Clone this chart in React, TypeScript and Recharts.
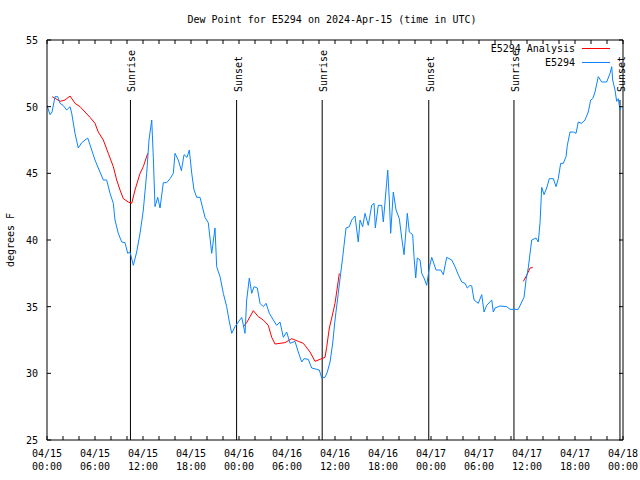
import React from 'react';
import { LineChart, Line, XAxis, YAxis, ReferenceLine } from 'recharts';

const FONT = '"DejaVu Sans Mono", monospace';

// observed dew point (hours since 04/15 00:00 UTC)
const obsHours = [
  0, 0.38, 0.63, 1.0, 1.34, 1.63, 2.0, 2.46, 2.88, 3.09,
  3.5, 3.91, 4.34, 5.09, 5.59, 6.0, 6.41, 7.04, 7.46, 7.88,
  8.29, 8.5, 8.91, 9.34, 9.75, 10.09, 10.38, 10.79, 11.21, 11.63,
  12.04, 12.46, 12.75, 13.09, 13.29, 13.5, 13.84, 14.13, 14.54, 14.96,
  15.38, 15.79, 16.0, 16.41, 16.8, 17.13, 17.5, 17.79, 18.09, 18.38,
  18.71, 19.13, 19.75, 20.16, 20.59, 21.0, 21.21, 21.63, 22.04, 22.46,
  22.75, 23.09, 23.5, 23.91, 24.34, 24.75, 24.96, 25.29, 25.59, 25.88,
  26.29, 26.63, 27.04, 27.38, 27.79, 28.29, 28.71, 29.13, 29.54, 29.96,
  30.38, 31.0, 31.41, 31.84, 32.13, 32.66, 33.09, 33.71, 34.04, 34.34,
  34.75, 35.04, 35.38, 35.7, 36.0, 36.41, 36.71, 36.96, 37.13, 37.38,
  37.79, 38.09, 38.5, 38.91, 39.13, 39.46, 39.75, 40.16, 40.59, 40.88,
  41.04, 41.41, 41.84, 42.04, 42.46, 42.59, 42.79, 42.96, 43.29, 43.63,
  44.04, 44.34, 44.63, 45.04, 45.29, 45.71, 45.88, 46.09, 46.29, 46.63,
  46.84, 47.13, 47.46, 47.79, 48.09, 48.29, 48.63, 49.21, 49.54, 49.96,
  50.59, 51.0, 51.41, 51.84, 52.25, 52.54, 52.88, 53.09, 53.38, 53.91,
  54.34, 54.63, 54.96, 55.59, 55.79, 56.0, 56.63, 57.46, 57.88, 58.91,
  59.34, 59.63, 59.88, 60.16, 60.38, 60.59, 61.13, 61.41, 61.63, 61.84,
  62.13, 62.46, 62.79, 63.29, 63.63, 63.91, 64.21, 64.54, 64.88, 65.04,
  65.38, 65.79, 66.13, 66.41, 66.84, 67.25, 67.66, 67.96, 68.21, 68.5,
  68.91, 69.34, 69.96, 70.38, 70.59, 70.71, 71.0, 71.21, 71.41, 71.63,
  71.75,
];
const obsDewPoint = [
  50.1, 49.4, 49.6, 50.75, 50.75, 50.25, 50.1, 49.75, 50.0, 49.5,
  48.0, 46.9, 47.3, 47.65, 46.75, 46.0, 45.4, 44.5, 44.5, 43.5,
  42.75, 41.5, 40.5, 39.85, 39.8, 39.0, 39.1, 38.1, 39.1, 40.5,
  42.25, 45.0, 47.5, 49.0, 46.2, 42.5, 43.2, 42.4, 44.3, 44.3,
  44.6, 45.0, 46.5, 46.0, 45.2, 46.4, 46.2, 46.75, 45.0, 43.75,
  43.2, 43.2, 41.7, 41.3, 39.0, 40.9, 38.0, 37.25, 36.0, 35.0,
  34.0, 33.0, 33.5, 33.85, 34.2, 33.0, 35.5, 37.15, 36.0, 36.5,
  36.4, 35.25, 35.0, 35.25, 34.5, 34.0, 33.6, 33.85, 32.7, 33.1,
  32.25, 32.4, 31.6, 30.85, 31.1, 31.05, 30.4, 30.3, 30.25, 29.65,
  29.7, 30.1, 30.85, 32.2, 34.0, 36.0, 37.5, 38.7, 39.6, 40.9,
  41.0, 41.5, 41.8, 39.85, 41.5, 41.0, 42.0, 41.1, 42.6, 42.75,
  40.9, 42.6, 42.6, 41.35, 44.3, 45.25, 43.0, 40.5, 43.6, 42.25,
  41.6, 40.15, 38.9, 42.0, 40.6, 40.4, 38.75, 37.15, 38.65, 38.5,
  37.5, 37.15, 36.6, 37.9, 38.7, 38.35, 37.75, 37.75, 37.4, 38.7,
  38.5, 38.0, 37.4, 36.85, 36.75, 36.4, 36.6, 36.55, 35.5, 35.25,
  35.9, 34.6, 35.1, 35.5, 34.6, 34.9, 35.05, 35.0, 34.8, 34.8,
  35.35, 35.7, 37.0, 37.9, 39.0, 40.0, 40.15, 39.85, 41.3, 43.95,
  43.4, 43.9, 44.6, 44.6, 44.0, 44.6, 45.75, 45.75, 46.25, 47.1,
  48.1, 48.1, 48.0, 48.85, 48.75, 49.0, 49.6, 50.5, 50.6, 51.1,
  52.25, 51.85, 51.85, 52.5, 53.0, 52.0, 51.25, 50.4, 50.6, 49.75,
  50.0,
];

// analysis (null = gap)
const analysisHours = [
  0.66, 1.63, 2.25, 2.88, 3.5, 4.13, 4.75, 5.38, 6.0, 6.41,
  7.04, 7.66, 8.29, 8.71, 9.13, 9.54, 10.16, 10.59, 11.0, 11.63,
  12.04, 12.59, 13,
  24.54, 24.96, 25.38, 25.79, 26.41, 27.04, 27.66, 28.09, 28.5, 29.13,
  29.75, 30.59, 31.41, 32.04, 32.88, 33.5, 34.13, 34.75, 34.96, 35.29,
  35.59, 36.0, 36.21, 36.54, 37,
  59.54, 59.96, 60.38, 60.71,
];
const analysisDewPoint = [
  50.75, 50.4, 50.5, 50.8, 50.25, 50.0, 49.6, 49.2, 48.75, 48.1,
  47.5, 46.5, 45.5, 44.5, 43.75, 43.1, 42.85, 42.75, 43.75, 45.0,
  45.5, 46.5, null,
  33.5, 33.8, 34.25, 34.7, 34.25, 34.0, 33.6, 32.7, 32.2, 32.25,
  32.3, 32.6, 32.4, 32.25, 31.6, 30.9, 31.05, 31.2, 31.95, 33.4,
  34.15, 35.25, 36.1, 37.5, null,
  36.9, 37.35, 37.9, 37.95,
];

const sunHours = [10.43, 23.7, 34.4, 47.72, 58.37, 71.62];
const sunLabels = ['Sunrise', 'Sunset', 'Sunrise', 'Sunset', 'Sunrise', 'Sunset'];

const xTicks = [0, 2, 4, 6, 8, 10, 12, 14, 16, 18, 20, 22, 24, 26, 28, 30, 32, 34, 36,
  38, 40, 42, 44, 46, 48, 50, 52, 54, 56, 58, 60, 62, 64, 66, 68, 70, 72];
const dateLabels = ['04/15', '04/15', '04/15', '04/15', '04/16', '04/16', '04/16', '04/16',
  '04/17', '04/17', '04/17', '04/17', '04/18'];
const timeLabels = ['00:00', '06:00', '12:00', '18:00', '00:00', '06:00', '12:00', '18:00',
  '00:00', '06:00', '12:00', '18:00', '00:00'];
const yTicks = [25, 30, 35, 40, 45, 50, 55];

const legendNames = ['E5294 Analysis', 'E5294'];
const legendColors = ['#ff0000', '#0a84ff'];

const obsData = obsHours.map((t, i) => ({ t, v: obsDewPoint[i] }));
const analysisData = analysisHours.map((t, i) => ({ t, v: analysisDewPoint[i] }));

const BottomTick = (props: any) => {
  const { x, y, payload } = props;
  const v = payload.value;
  const major = v % 6 === 0;
  return (
    <g>
      <line x1={x} y1={y} x2={x} y2={y - 4} stroke="#000" />
      {major && (
        <text x={x} y={y + 17} textAnchor="middle" fontFamily={FONT} fontSize={10} fill="#000">
          {dateLabels[v / 6]}
        </text>
      )}
      {major && (
        <text x={x} y={y + 30} textAnchor="middle" fontFamily={FONT} fontSize={10} fill="#000">
          {timeLabels[v / 6]}
        </text>
      )}
    </g>
  );
};

const TopTick = (props: any) => {
  const { x, y } = props;
  return <line x1={x} y1={y} x2={x} y2={y + 4} stroke="#000" />;
};

const LeftTick = (props: any) => {
  const { x, y, payload } = props;
  return (
    <g>
      <line x1={x} y1={y} x2={x + 4} y2={y} stroke="#000" />
      <text x={x - 9} y={y + 4} textAnchor="end" fontFamily={FONT} fontSize={10} fill="#000">
        {payload.value}
      </text>
    </g>
  );
};

const RightTick = (props: any) => {
  const { x, y } = props;
  return <line x1={x} y1={y} x2={x - 4} y2={y} stroke="#000" />;
};

const SunLabel = (text: string) => (props: any) => {
  const { viewBox } = props;
  const x = viewBox.x + 5;
  const y = viewBox.y - 8;
  return (
    <text x={x} y={y} transform={`rotate(-90, ${x}, ${y})`} textAnchor="start"
      fontFamily={FONT} fontSize={10} fill="#000">
      {text}
    </text>
  );
};

export default function App() {
  return (
    <div style={{ position: 'absolute', left: 0, top: 0, width: 640, height: 480, background: '#fff' }}>
      <LineChart width={640} height={480} margin={{ top: 39, right: 16, bottom: 0, left: 0 }}>
        <XAxis dataKey="t" type="number" domain={[0, 72]} ticks={xTicks} interval={0}
          allowDataOverflow height={40} tickSize={0} tickMargin={0} tickLine={false}
          axisLine={{ stroke: '#000' }} tick={BottomTick} />
        <XAxis xAxisId="top" orientation="top" dataKey="t" type="number" domain={[0, 72]} ticks={xTicks}
          interval={0} allowDataOverflow height={1} tickSize={0} tickMargin={0} tickLine={false}
          axisLine={{ stroke: '#000' }} tick={TopTick} />
        <YAxis type="number" domain={[25, 55]} ticks={yTicks} interval={0} allowDataOverflow width={47}
          tickSize={0} tickMargin={0} tickLine={false} axisLine={{ stroke: '#000' }} tick={LeftTick} />
        <YAxis yAxisId="right" orientation="right" type="number" domain={[25, 55]} ticks={yTicks} interval={0}
          allowDataOverflow width={1} tickSize={0} tickMargin={0} tickLine={false}
          axisLine={{ stroke: '#000' }} tick={RightTick} />
        {sunHours.map((h, i) => (
          <ReferenceLine key={i} segment={[{ x: h, y: 25 }, { x: h, y: 50.5 }]} stroke="#000"
            strokeWidth={1} ifOverflow="visible" label={SunLabel(sunLabels[i])} />
        ))}
        <Line data={analysisData} dataKey="v" name="E5294 Analysis" type="linear" stroke="#ff0000"
          strokeWidth={1} dot={false} activeDot={false} connectNulls={false} isAnimationActive={false} />
        <Line data={obsData} dataKey="v" name="E5294" type="linear" stroke="#0a84ff"
          strokeWidth={1} dot={false} activeDot={false} isAnimationActive={false} />
      </LineChart>
      <svg width={640} height={480} style={{ position: 'absolute', left: 0, top: 0, pointerEvents: 'none' }}>
        <text x={332} y={23} textAnchor="middle" fontFamily={FONT} fontSize={10} fill="#000">
          Dew Point for E5294 on 2024-Apr-15 (time in UTC)
        </text>
        <text x={14} y={240} transform="rotate(-90, 14, 240)" textAnchor="middle" fontFamily={FONT}
          fontSize={10} fill="#000">
          degrees F
        </text>
        {legendNames.map((name, i) => (
          <g key={name}>
            <text x={575} y={52 + i * 14} textAnchor="end" fontFamily={FONT} fontSize={10} fill="#000">
              {name}
            </text>
            <line x1={582} y1={48.5 + i * 14} x2={610} y2={48.5 + i * 14} stroke={legendColors[i]} strokeWidth={1} />
          </g>
        ))}
      </svg>
    </div>
  );
}
